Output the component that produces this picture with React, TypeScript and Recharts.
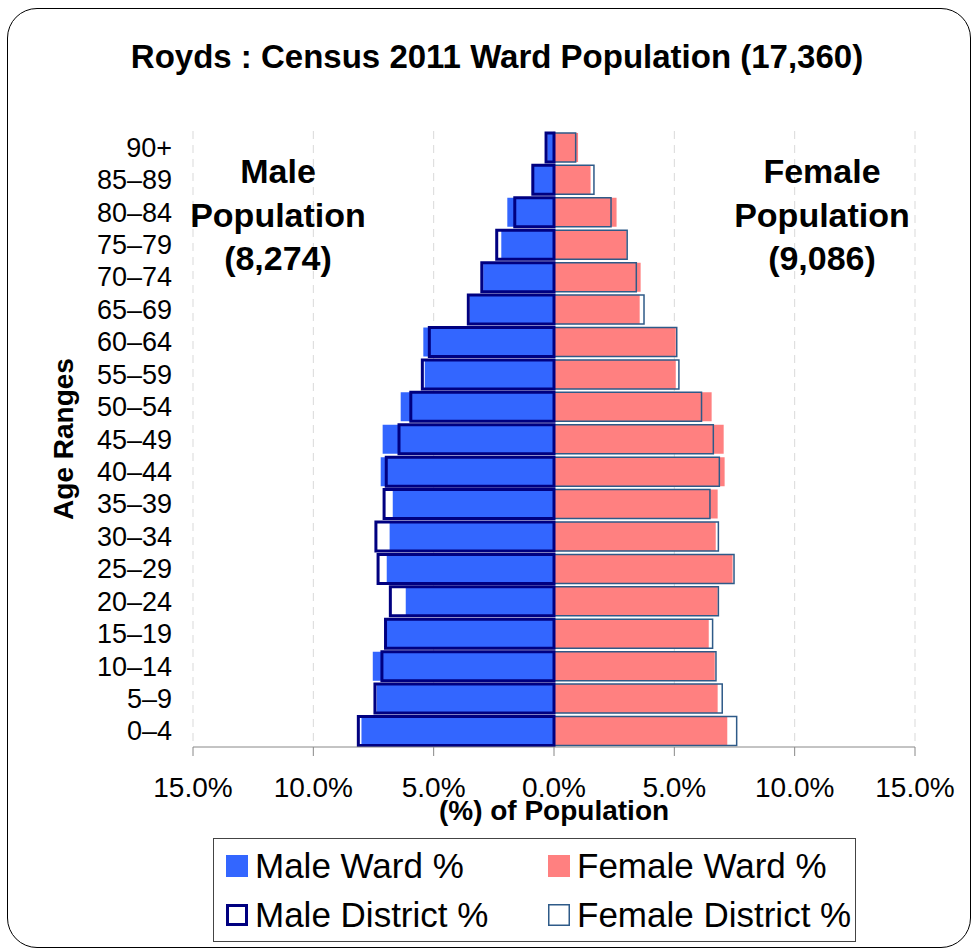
import React from "react";
import {
  BarChart,
  Bar,
  XAxis,
  YAxis,
  CartesianGrid,
  Label,
} from "recharts";

// age bands, youngest first (axis is reversed so 90+ sits on top)
const ages = [
  "0–4", "5–9", "10–14", "15–19", "20–24", "25–29", "30–34", "35–39", "40–44",
  "45–49", "50–54", "55–59", "60–64", "65–69", "70–74", "75–79", "80–84", "85–89", "90+",
];

const maleWard = [8.0, 7.37, 7.53, 6.95, 6.16, 6.95, 6.83, 6.7, 7.2, 7.12, 6.37, 5.37, 5.43, 3.49, 2.94, 2.19, 1.94, 0.92, 0.28];
const maleDistrict = [8.13, 7.44, 7.15, 7.0, 6.8, 7.31, 7.4, 7.06, 6.97, 6.44, 5.95, 5.47, 5.18, 3.56, 3.0, 2.38, 1.63, 0.88, 0.33];
const femaleWard = [7.2, 6.8, 6.68, 6.43, 6.8, 7.42, 6.72, 6.8, 7.09, 7.05, 6.55, 5.06, 5.06, 3.56, 3.6, 3.02, 2.6, 1.52, 1.0];
const femaleDistrict = [7.59, 6.99, 6.73, 6.59, 6.83, 7.48, 6.83, 6.48, 6.87, 6.62, 6.13, 5.19, 5.1, 3.74, 3.42, 3.04, 2.37, 1.66, 0.9];

const xTicks = [-15, -10, -5, 0, 5, 10, 15];

const data = ages.map((age, i) => ({
  age,
  maleWard: -maleWard[i],
  maleDistrict: -maleDistrict[i],
  femaleWard: femaleWard[i],
  femaleDistrict: femaleDistrict[i],
}));

const FONT = '"Liberation Sans", Arial, sans-serif';

const legendItems = [
  { label: "Male Ward %", fill: "#3366FF", stroke: "none", sw: 0, x: 225, y: 866 },
  { label: "Female Ward %", fill: "#FF8080", stroke: "none", sw: 0, x: 547, y: 866 },
  { label: "Male District %", fill: "#fff", stroke: "#000080", sw: 3, x: 225, y: 915 },
  { label: "Female District %", fill: "#fff", stroke: "#2E5A88", sw: 1.5, x: 547, y: 915 },
];

const popText = {
  position: "absolute" as const,
  width: 240,
  top: 150,
  textAlign: "center" as const,
  fontWeight: "bold" as const,
  fontSize: 34,
  lineHeight: "43.5px",
};

const App = () => {
  return (
    <div style={{ position: "absolute", left: 0, top: 0, width: 976, height: 951, fontFamily: FONT, background: "#fff" }}>
      <div
        style={{
          position: "absolute",
          left: 7,
          top: 8,
          width: 964,
          height: 940,
          border: "1.5px solid #000",
          borderRadius: 30,
          boxSizing: "border-box",
        }}
      />
      <div style={{ position: "absolute", left: 0, width: 994, top: 38, textAlign: "center", fontWeight: "bold", fontSize: 33 }}>
        Royds : Census 2011 Ward Population (17,360)
      </div>
      <BarChart
        width={976}
        height={951}
        data={data}
        layout="vertical"
        barCategoryGap="6%"
        margin={{ top: 131, right: 61, bottom: 122, left: 40 }}
        style={{ position: "absolute", left: 0, top: 0 }}
      >
        <CartesianGrid horizontal={false} stroke="#D9D9D9" strokeDasharray="8 6" />
        <XAxis
          type="number"
          domain={[-15, 15]}
          ticks={xTicks}
          tickFormatter={(v: number) => Math.abs(v).toFixed(1) + "%"}
          tick={{ fill: "#000", fontSize: 28, fontFamily: FONT }}
          stroke="#888"
          tickSize={9}
          tickMargin={21}
          height={82}
        >
          <Label
            value="(%) of Population"
            position="insideBottom"
            offset={9}
            style={{ fontWeight: "bold", fontSize: 28, fill: "#000", fontFamily: FONT }}
          />
        </XAxis>
        <YAxis
          yAxisId="mw"
          type="category"
          dataKey="age"
          reversed
          width={153}
          axisLine={false}
          tickLine={false}
          tickSize={0}
          tickMargin={21}
          interval={0}
          tick={{ fill: "#000", fontSize: 27, fontFamily: FONT }}
        >
          <Label
            value="Age Ranges"
            angle={-90}
            position="insideLeft"
            offset={23}
            style={{ fontWeight: "bold", fontSize: 28, fill: "#000", fontFamily: FONT, textAnchor: "middle" }}
          />
        </YAxis>
        <YAxis yAxisId="fw" type="category" dataKey="age" reversed hide width={0} />
        <YAxis yAxisId="md" type="category" dataKey="age" reversed hide width={0} />
        <YAxis yAxisId="fd" type="category" dataKey="age" reversed hide width={0} />
        <Bar yAxisId="mw" dataKey="maleWard" fill="#3366FF" isAnimationActive={false} />
        <Bar yAxisId="fw" dataKey="femaleWard" fill="#FF8080" isAnimationActive={false} />
        <Bar yAxisId="fd" dataKey="femaleDistrict" fill="none" stroke="#2E5A88" strokeWidth={1.5} isAnimationActive={false} />
        <Bar yAxisId="md" dataKey="maleDistrict" fill="none" stroke="#000080" strokeWidth={3} isAnimationActive={false} />
      </BarChart>
      <div style={{ ...popText, left: 158 }}>
        Male
        <br />
        Population
        <br />
        (8,274)
      </div>
      <div style={{ ...popText, left: 702 }}>
        Female
        <br />
        Population
        <br />
        (9,086)
      </div>
      <div
        style={{
          position: "absolute",
          left: 213,
          top: 838,
          width: 643,
          height: 104,
          border: "1.5px solid #444",
          boxSizing: "border-box",
        }}
      />
      {legendItems.map((it) => (
        <div key={it.label} style={{ position: "absolute", left: it.x, top: it.y - 22, height: 44, display: "flex", alignItems: "center" }}>
          <svg width={24} height={24} style={{ marginRight: 6 }}>
            <rect
              x={1 + it.sw / 2}
              y={1 + it.sw / 2}
              width={22 - it.sw}
              height={22 - it.sw}
              fill={it.fill}
              stroke={it.stroke}
              strokeWidth={it.sw}
            />
          </svg>
          <span style={{ fontSize: 35 }}>{it.label}</span>
        </div>
      ))}
    </div>
  );
};

export default App;
